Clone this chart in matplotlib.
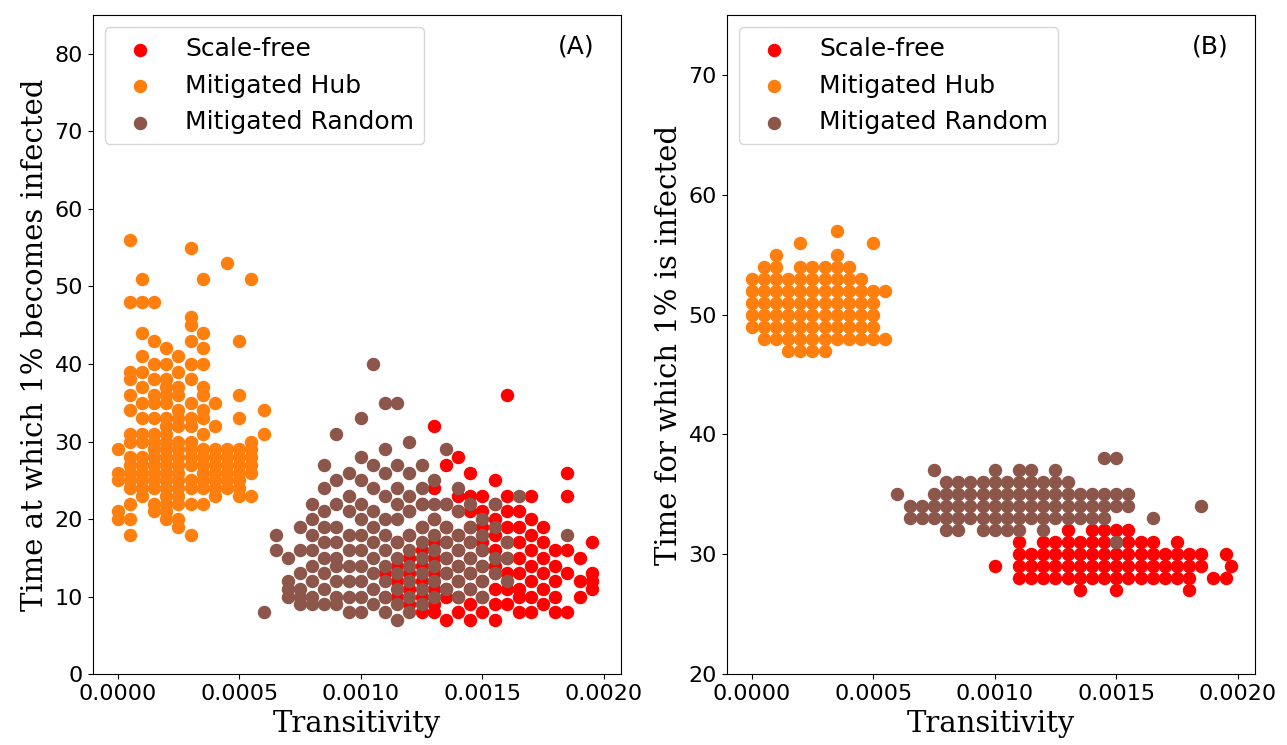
import matplotlib
matplotlib.use("Agg")
import matplotlib.pyplot as plt

# ---- panel A : time at which 1% becomes infected ----
sf_a_x = [0.00110, 0.00115, 0.00120, 0.00125, 0.00130, 0.00135, 0.00140, 0.00145, 0.00150,
          0.00155, 0.00160, 0.00165, 0.00170, 0.00175, 0.00180, 0.00185, 0.00190, 0.00195]
sf_a_y = [[13, 10], [17, 14, 12, 10], [21, 18, 15, 13, 11, 9], [22, 19, 16, 14, 12, 10, 8],
          [32, 24, 20, 17, 15, 13, 11, 9, 8], [27, 22, 19, 17, 15, 13, 11, 10, 7],
          [28, 23, 21, 18, 16, 14, 12, 10, 8], [26, 23, 21, 19, 17, 15, 13, 11, 9, 7],
          [23, 21, 19, 17, 16, 14, 12, 10, 8], [25, 22, 20, 18, 16, 14, 13, 11, 9, 7],
          [36, 23, 21, 19, 17, 15, 13, 11, 9], [21, 19, 17, 15, 13, 11, 10, 8],
          [23, 20, 18, 16, 14, 12, 10, 8], [19, 17, 15, 13, 11, 9], [16, 14, 12, 10, 8],
          [26, 23, 16, 13, 8], [15, 12, 10], [17, 13, 12, 11]]

hub_a_x = [0.0, 0.00005, 0.0001, 0.00015, 0.0002, 0.00025, 0.0003, 0.00035, 0.0004,
           0.00045, 0.0005, 0.00055, 0.0006]
hub_a_y = [[29, 26, 25, 21, 20],
           [56, 48, 39, 38, 36, 34, 31, 30, 28, 27, 26, 25, 24, 22, 20, 18],
           [51, 48, 44, 41, 39, 37, 35, 33, 31, 30, 28, 27, 26, 25, 24, 23],
           [48, 43, 40, 38, 36, 35, 33, 31, 30, 29, 28, 27, 26, 25, 24, 22, 21],
           [42, 40, 38, 37, 36, 35, 33, 32, 31, 30, 29, 28, 27, 26, 25, 24, 23, 22, 21, 20],
           [41, 39, 37, 36, 34, 33, 32, 30, 29, 28, 27, 26, 25, 24, 23, 22, 20, 19],
           [55, 46, 45, 43, 40, 38, 35, 33, 32, 30, 29, 28, 27, 25, 24, 22, 18],
           [51, 44, 42, 40, 37, 36, 34, 33, 31, 29, 28, 27, 26, 25, 24, 22],
           [35, 32, 29, 28, 27, 26, 25, 24, 23],
           [53, 29, 28, 27, 26, 25, 24],
           [43, 36, 33, 29, 28, 27, 26, 25, 24, 23],
           [51, 30, 29, 28, 27, 26, 23],
           [34, 31]]

rnd_a_x = [0.00060, 0.00065, 0.00070, 0.00075, 0.00080, 0.00085, 0.00090, 0.00095, 0.00100,
           0.00105, 0.00110, 0.00115, 0.00120, 0.00125, 0.00130, 0.00135, 0.00140, 0.00145,
           0.00150, 0.00155, 0.00160, 0.00165, 0.00185]
rnd_a_y = [[8], [18, 16], [15, 12, 11, 10], [19, 16, 13, 11, 10, 9],
           [22, 20, 18, 16, 14, 12, 10, 9], [27, 24, 21, 19, 17, 15, 13, 11, 9],
           [31, 25, 22, 19, 17, 15, 14, 12, 10, 9], [26, 23, 21, 18, 16, 14, 12, 10, 8],
           [33, 28, 25, 22, 20, 18, 16, 14, 12, 10, 8], [40, 27, 24, 21, 19, 17, 15, 13, 11, 9],
           [35, 29, 26, 23, 20, 18, 16, 14, 12, 10, 8],
           [35, 27, 24, 22, 20, 17, 15, 13, 11, 9, 7], [30, 26, 23, 21, 18, 16, 14, 12, 10, 8],
           [27, 24, 22, 19, 17, 15, 13, 11, 9], [25, 22, 20, 18, 16, 14, 12, 10],
           [29, 22, 19, 17, 15, 13, 11], [24, 21, 18, 16, 14, 12, 10], [22, 19, 17, 15, 13, 11],
           [20, 18, 16, 14, 12, 10], [22, 19, 15, 13], [17, 15, 12], [23], [18]]

# ---- panel B : time for which 1% is infected ----
sf_b_x = [0.00100, 0.00110, 0.00115, 0.00120, 0.00125, 0.00130, 0.00135, 0.00140, 0.00145,
          0.00150, 0.00155, 0.00160, 0.00165, 0.00170, 0.00175, 0.00180, 0.00185, 0.00190,
          0.00195, 0.00197]
sf_b_y = [[29], [31, 30, 29, 28], [30, 29, 28], [31, 30, 29, 28], [31, 30, 29, 28],
          [32, 31, 30, 29, 28], [31, 30, 29, 28, 27], [32, 31, 30, 29, 28],
          [32, 31, 30, 29, 28], [32, 31, 30, 29, 28, 27], [32, 31, 30, 29, 28],
          [31, 30, 29, 28], [31, 30, 29, 28], [30, 29, 28], [31, 30, 29, 28],
          [30, 29, 28, 27], [30, 29], [28], [30, 28], [29]]

hub_b_x = [0.0, 0.00005, 0.0001, 0.00015, 0.0002, 0.00025, 0.0003, 0.00035, 0.0004,
           0.00045, 0.0005, 0.00055]
hub_b_y = [[53, 52, 51, 50, 49], [54, 53, 52, 51, 50, 49, 48],
           [55, 54, 53, 52, 51, 50, 49, 48], [53, 52, 51, 50, 49, 48, 47],
           [56, 54, 53, 52, 51, 50, 49, 48, 47], [54, 53, 52, 51, 50, 49, 48, 47],
           [54, 53, 52, 51, 50, 49, 48, 47], [57, 55, 54, 53, 52, 51, 50, 49, 48],
           [54, 53, 52, 51, 50, 49, 48], [53, 52, 51, 50, 49, 48],
           [56, 52, 51, 50, 49, 48], [52, 48]]

rnd_b_x = [0.00060, 0.00065, 0.00070, 0.00075, 0.00080, 0.00085, 0.00090, 0.00095, 0.00100,
           0.00105, 0.00110, 0.00115, 0.00120, 0.00125, 0.00130, 0.00135, 0.00140, 0.00145,
           0.00150, 0.00155, 0.00165, 0.00185]
rnd_b_y = [[35], [34, 33], [34, 33], [37, 35, 34, 33], [36, 35, 34, 33, 32],
           [36, 35, 34, 33, 32], [36, 35, 34, 33], [36, 35, 34, 33, 32],
           [37, 36, 35, 34, 33, 32], [36, 35, 34, 33, 32], [37, 36, 35, 34, 33, 32],
           [37, 36, 35, 34, 33], [36, 35, 34, 33, 32], [37, 36, 35, 34, 33],
           [36, 35, 34, 33], [35, 34, 33], [35, 34, 33], [38, 35, 34, 33],
           [38, 35, 34, 31], [35, 34], [33], [34]]


def expand(xs, ys):
    px, py = [], []
    for x, col in zip(xs, ys):
        for y in col:
            px.append(x)
            py.append(y)
    return px, py


fig, axes = plt.subplots(1, 2, figsize=(12.87, 7.45), dpi=100)
panels = [
    (axes[0], sf_a_x, sf_a_y, hub_a_x, hub_a_y, rnd_a_x, rnd_a_y,
     'Time at which 1% becomes infected', (0, 85), '(A)'),
    (axes[1], sf_b_x, sf_b_y, hub_b_x, hub_b_y, rnd_b_x, rnd_b_y,
     'Time for which 1% is infected', (20, 75), '(B)'),
]
for ax, sx, sy, hx, hy, rx, ry, ylab, ylim, tag in panels:
    ax.scatter(*expand(sx, sy), s=75, color='#ff0000', label='Scale-free')
    ax.scatter(*expand(hx, hy), s=75, color='#ff7f0e', label='Mitigated Hub')
    ax.scatter(*expand(rx, ry), s=75, color='#8c564b', label='Mitigated Random')
    ax.set_xlim(-0.000103, 0.00207)
    ax.set_ylim(*ylim)
    ax.set_xticks([0, 0.0005, 0.001, 0.0015, 0.002])
    ax.set_xticklabels(['0.0000', '0.0005', '0.0010', '0.0015', '0.0020'])
    ax.tick_params(labelsize=16)
    ax.set_xlabel('Transitivity', family='serif', fontsize=21)
    ax.set_ylabel(ylab, family='serif', fontsize=21)
    ax.legend(loc='upper left', fontsize=18)
    ax.text(0.88, 0.97, tag, transform=ax.transAxes, fontsize=18, va='top')

plt.subplots_adjust(left=0.072, right=0.975, top=0.98, bottom=0.095, wspace=0.2)
plt.savefig('out.png')
